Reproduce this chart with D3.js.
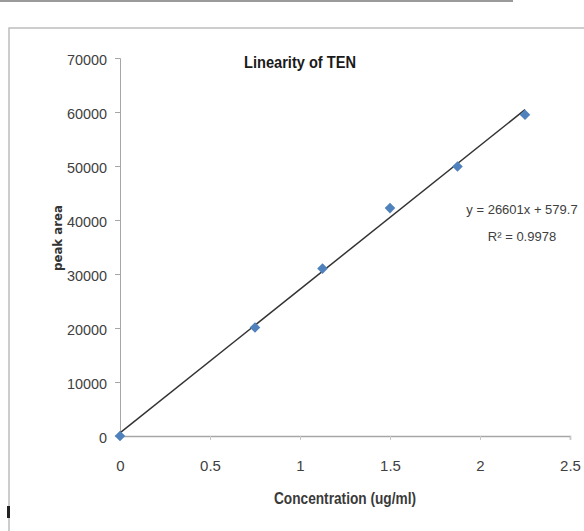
<!DOCTYPE html>
<html>
<head>
<meta charset="utf-8">
<script src="https://cdn.jsdelivr.net/npm/d3@7"></script>
<style>
  body { margin: 0; background: #fff; }
  svg { display: block; }
</style>
</head>
<body>
<div id="chart"></div>
<script>
// data
var concentration = [0, 0.75, 1.125, 1.5, 1.875, 2.25];
var peakArea = [0, 20100, 31000, 42200, 49900, 59500];
var xTicks = [0, 0.5, 1, 1.5, 2, 2.5];
var yTicks = [0, 10000, 20000, 30000, 40000, 50000, 60000, 70000];
var slope = 26601, intercept = 579.7;
var eqText = ["y = 26601x + 579.7", "R² = 0.9978"];

var width = 584, height = 531;
var sans = "'Liberation Sans', Arial, sans-serif";

var svg = d3.select("#chart").append("svg")
    .attr("width", width).attr("height", height);

// page line + chart frame
svg.append("line").attr("x1", 0).attr("x2", 513).attr("y1", 1).attr("y2", 1)
    .attr("stroke", "#9a9a9a").attr("stroke-width", 2);
svg.append("rect").attr("x", 9).attr("y", 28).attr("width", 600).attr("height", 520)
    .attr("fill", "none").attr("stroke", "#bdbdbd").attr("stroke-width", 1.5);
svg.append("rect").attr("x", 7).attr("y", 506).attr("width", 3).attr("height", 12)
    .attr("fill", "#222");

var x = d3.scaleLinear().domain([0, 2.5]).range([120, 570]);
var y = d3.scaleLinear().domain([0, 70000]).range([436, 58]);

// y axis
var yAxis = svg.append("g").attr("transform", "translate(120,0)")
    .call(d3.axisLeft(y).tickValues(yTicks).tickSize(5).tickPadding(8).tickFormat(d3.format("d")));
yAxis.select(".domain").attr("stroke", "#a6a6a6");
yAxis.selectAll(".tick line").attr("stroke", "#a6a6a6");
yAxis.selectAll("text").attr("fill", "#404040").attr("dy", "0.4em")
    .attr("textLength", function(d) { return String(d).length * 8; })
    .attr("lengthAdjust", "spacingAndGlyphs")
    .style("font-family", sans).style("font-size", "15px");

// x axis
var xAxis = svg.append("g").attr("transform", "translate(0,436)")
    .call(d3.axisBottom(x).tickValues(xTicks).tickSize(4).tickPadding(20).tickFormat(d3.format("")));
xAxis.select(".domain").attr("stroke", "#a6a6a6").attr("stroke-width", 1.5);
xAxis.selectAll(".tick line").attr("stroke", "#c8c8c8");
xAxis.selectAll("text").attr("fill", "#404040")
    .style("font-family", sans).style("font-size", "15px");

// trendline
var lineX = [0, d3.max(concentration)];
svg.append("path")
    .datum(lineX)
    .attr("d", d3.line().x(function(d) { return x(d); }).y(function(d) { return y(slope * d + intercept); }))
    .attr("stroke", "#333").attr("stroke-width", 1.5).attr("fill", "none");

// markers
svg.selectAll(".pt").data(concentration).enter().append("path")
    .attr("class", "pt")
    .attr("transform", function(d, i) { return "translate(" + x(d) + "," + y(peakArea[i]) + ") rotate(45)"; })
    .attr("d", d3.symbol().type(d3.symbolSquare).size(56))
    .attr("fill", "#4f81bd");

// title
svg.append("text").attr("x", 300).attr("y", 68).attr("text-anchor", "middle")
    .attr("textLength", 112).attr("lengthAdjust", "spacingAndGlyphs")
    .style("font-family", sans).style("font-size", "17px").style("font-weight", "bold")
    .attr("fill", "#1a1a1a").text("Linearity of TEN");

// axis titles
svg.append("text").attr("x", 345).attr("y", 504).attr("text-anchor", "middle")
    .attr("textLength", 142).attr("lengthAdjust", "spacingAndGlyphs")
    .style("font-family", sans).style("font-size", "16px").style("font-weight", "bold")
    .attr("fill", "#3a3a3a").text("Concentration (ug/ml)");

svg.append("text").attr("transform", "translate(62,238) rotate(-90)").attr("text-anchor", "middle")
    .attr("textLength", 66).attr("lengthAdjust", "spacingAndGlyphs")
    .style("font-family", "'DejaVu Sans', sans-serif").style("font-size", "13px").style("font-weight", "bold")
    .attr("fill", "#333").text("peak area");

// equation
svg.selectAll(".eq").data(eqText).enter().append("text")
    .attr("class", "eq")
    .attr("x", 522).attr("y", function(d, i) { return 214 + i * 27; })
    .attr("text-anchor", "middle")
    .style("font-family", sans).style("font-size", "13px")
    .attr("fill", "#404040").text(function(d) { return d; });
</script>
</body>
</html>
